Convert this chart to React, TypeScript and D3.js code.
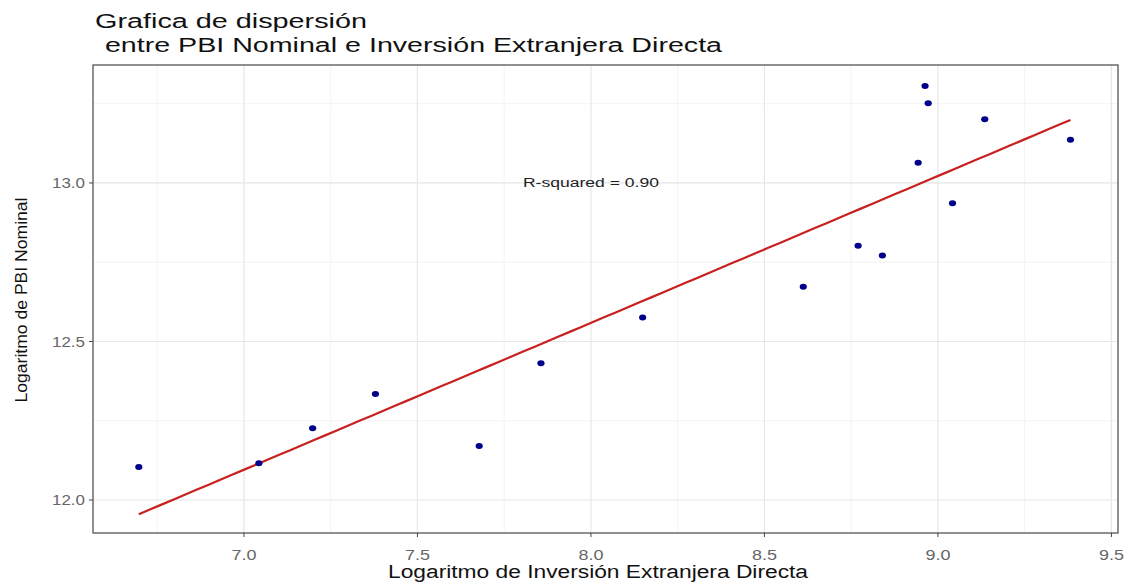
import React from "react";
import * as d3 from "d3";

const logIED: number[] = [6.697, 7.043, 7.198, 7.379, 7.678, 7.856, 8.149, 8.612, 8.770, 8.840, 8.963, 8.972, 8.943, 9.042, 9.135, 9.382];
const logPBI: number[] = [12.104, 12.116, 12.226, 12.334, 12.170, 12.431, 12.576, 12.673, 12.802, 12.771, 13.306, 13.251, 13.064, 12.936, 13.201, 13.136];
const xTicks: number[] = [7.0, 7.5, 8.0, 8.5, 9.0, 9.5];
const yTicks: number[] = [12.0, 12.5, 13.0];
const xMinor: number[] = [6.75, 7.25, 7.75, 8.25, 8.75, 9.25];
const yMinor: number[] = [12.25, 12.75, 13.25];
const titleLines: string[] = ["Grafica de dispersión", " entre PBI Nominal e Inversión Extranjera Directa"];
const xLabel = "Logaritmo de Inversión Extranjera Directa";
const yLabel = "Logaritmo de PBI Nominal";
const annotation = "R-squared = 0.90";

const W = 1125, H = 584;
const panel = { left: 93, right: 1118, top: 65, bottom: 533 };

export default function App() {
  const x = d3.scaleLinear().domain([6.565, 9.519]).range([panel.left, panel.right]);
  const y = d3.scaleLinear().domain([11.896, 13.372]).range([panel.bottom, panel.top]);

  const n = logIED.length;
  const mx = d3.mean(logIED)!;
  const my = d3.mean(logPBI)!;
  let sxy = 0, sxx = 0;
  for (let i = 0; i < n; i++) {
    sxy += (logIED[i] - mx) * (logPBI[i] - my);
    sxx += (logIED[i] - mx) ** 2;
  }
  const b = sxy / sxx;
  const a = my - b * mx;
  const xmin = d3.min(logIED)!, xmax = d3.max(logIED)!;
  const linePts: [number, number][] = d3.range(0, 81).map((k) => {
    const xv = xmin + ((xmax - xmin) * k) / 80;
    return [xv, a + b * xv];
  });
  const lineGen = d3.line<[number, number]>().x((d) => x(d[0])).y((d) => y(d[1]));

  const font = "'Liberation Sans', Arial, sans-serif";

  return (
    <svg width={W} height={H} style={{ position: "absolute", left: 0, top: 0, background: "#fff" }} fontFamily={font}>
      <rect x={0} y={0} width={W} height={H} fill="#fff" />
      {xMinor.map((t) => (
        <line key={"xm" + t} x1={x(t)} x2={x(t)} y1={panel.top} y2={panel.bottom} stroke="#f3f3f3" strokeWidth={1} />
      ))}
      {yMinor.map((t) => (
        <line key={"ym" + t} y1={y(t)} y2={y(t)} x1={panel.left} x2={panel.right} stroke="#f3f3f3" strokeWidth={1} />
      ))}
      {xTicks.map((t) => (
        <line key={"xg" + t} x1={x(t)} x2={x(t)} y1={panel.top} y2={panel.bottom} stroke="#e6e6e6" strokeWidth={1.2} />
      ))}
      {yTicks.map((t) => (
        <line key={"yg" + t} y1={y(t)} y2={y(t)} x1={panel.left} x2={panel.right} stroke="#e6e6e6" strokeWidth={1.2} />
      ))}
      <path d={lineGen(linePts) || ""} fill="none" stroke="#c8201f" strokeWidth={2.2} />
      {logIED.map((v, i) => (
        <ellipse key={"p" + i} cx={x(v)} cy={y(logPBI[i])} rx={3.6} ry={3} fill="#00008b" />
      ))}
      <text x={x(8.0)} y={y(13.0)} dy="0.35em" textAnchor="middle" fontSize={12} fill="#222" textLength={136} lengthAdjust="spacingAndGlyphs">
        {annotation}
      </text>
      <rect x={panel.left} y={panel.top} width={panel.right - panel.left} height={panel.bottom - panel.top} fill="none" stroke="#555" strokeWidth={1.3} />
      {xTicks.map((t) => (
        <g key={"xt" + t}>
          <line x1={x(t)} x2={x(t)} y1={panel.bottom} y2={panel.bottom + 4} stroke="#444" strokeWidth={1} />
          <text x={x(t)} y={560} textAnchor="middle" fontSize={15} fill="#666" textLength={25} lengthAdjust="spacingAndGlyphs">
            {t.toFixed(1)}
          </text>
        </g>
      ))}
      {yTicks.map((t) => (
        <g key={"yt" + t}>
          <line x1={panel.left - 4} x2={panel.left} y1={y(t)} y2={y(t)} stroke="#444" strokeWidth={1} />
          <text x={panel.left - 8} y={y(t)} dy="0.35em" textAnchor="end" fontSize={15} fill="#666" textLength={33} lengthAdjust="spacingAndGlyphs">
            {t.toFixed(1)}
          </text>
        </g>
      ))}
      <text x={598} y={578} textAnchor="middle" fontSize={18} fill="#111" textLength={420} lengthAdjust="spacingAndGlyphs">
        {xLabel}
      </text>
      <text transform={`translate(27, 300) rotate(-90)`} textAnchor="middle" fontSize={16} fill="#111" textLength={205} lengthAdjust="spacingAndGlyphs">
        {yLabel}
      </text>
      <text x={95} y={28} fontSize={19.5} fill="#111" textLength={272} lengthAdjust="spacingAndGlyphs">
        {titleLines[0]}
      </text>
      <text x={97} y={52} fontSize={19.5} fill="#111" textLength={625} lengthAdjust="spacingAndGlyphs" style={{ whiteSpace: "pre" }}>
        {titleLines[1]}
      </text>
    </svg>
  );
}
